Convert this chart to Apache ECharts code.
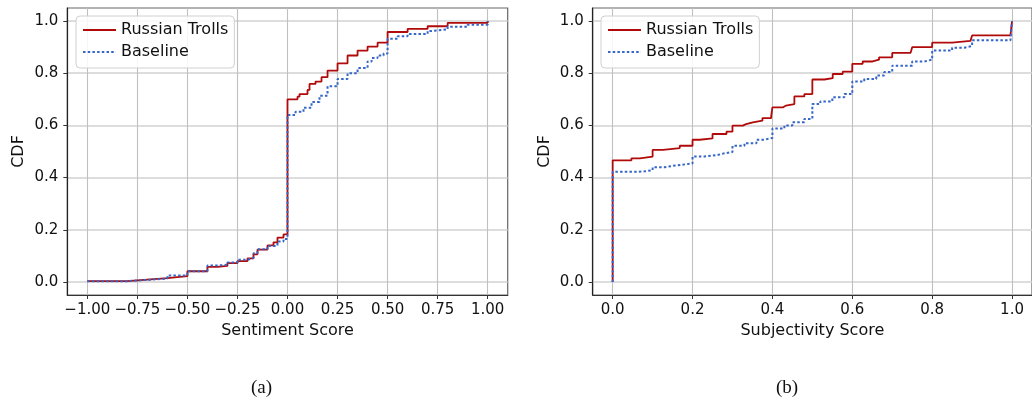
<!DOCTYPE html>
<html>
<head>
<meta charset="utf-8">
<script src="https://cdn.jsdelivr.net/npm/echarts@6/dist/echarts.min.js"></script>
<style>html,body{margin:0;padding:0;background:#fff}#c{width:1032px;height:405px}</style>
</head>
<body>
<div id="c"></div>
<script>
// ---- data ----
const seriesNames = ['Russian Trolls', 'Baseline'];

// (a) Sentiment score CDF
const sentTrollsX = [-1.0,-0.8,-0.7,-0.6,-0.5,-0.4,-0.35,-0.3,-0.25,-0.2,-0.17,-0.15,-0.1,-0.07,-0.05,-0.02,0.0,0.05,0.06,0.1,0.11,0.14,0.17,0.2,0.25,0.3,0.35,0.4,0.45,0.5,0.6,0.7,0.8,1.0];
const sentTrollsY = [0.003,0.009,0.015,0.022,0.041,0.058,0.062,0.072,0.080,0.090,0.106,0.124,0.140,0.152,0.170,0.182,0.700,0.710,0.720,0.736,0.759,0.768,0.785,0.810,0.838,0.868,0.887,0.902,0.917,0.958,0.970,0.980,0.993,1.0];
const sentBaseX = [-1.0,-0.8,-0.7,-0.6,-0.5,-0.4,-0.35,-0.3,-0.25,-0.2,-0.17,-0.15,-0.1,-0.05,-0.02,0.0,0.04,0.08,0.12,0.16,0.2,0.25,0.3,0.35,0.4,0.42,0.45,0.48,0.5,0.55,0.6,0.7,0.72,0.8,0.9,1.0];
const sentBaseY = [0.003,0.008,0.013,0.025,0.041,0.063,0.066,0.075,0.085,0.092,0.110,0.125,0.138,0.155,0.165,0.640,0.652,0.668,0.690,0.714,0.750,0.778,0.800,0.820,0.845,0.858,0.868,0.876,0.932,0.942,0.950,0.962,0.968,0.978,0.986,1.0];

// (b) Subjectivity score CDF
const subjTrollsX = [0.0,0.0,0.047,0.068,0.1,0.126,0.168,0.2,0.218,0.25,0.285,0.3,0.326,0.334,0.351,0.375,0.397,0.4,0.426,0.434,0.455,0.48,0.5,0.53,0.551,0.576,0.6,0.626,0.651,0.667,0.7,0.746,0.75,0.8,0.85,0.896,0.9,0.996,1.0];
const subjTrollsY = [0.0,0.466,0.474,0.480,0.506,0.513,0.522,0.545,0.550,0.567,0.576,0.599,0.605,0.612,0.618,0.628,0.637,0.669,0.676,0.682,0.711,0.720,0.776,0.781,0.797,0.806,0.836,0.845,0.852,0.861,0.878,0.885,0.900,0.917,0.924,0.928,0.945,0.950,1.0];
const subjBaseX = [0.0,0.0,0.06,0.08,0.1,0.13,0.16,0.2,0.23,0.26,0.28,0.3,0.33,0.36,0.38,0.4,0.43,0.45,0.48,0.5,0.52,0.55,0.58,0.6,0.63,0.66,0.68,0.7,0.75,0.78,0.8,0.85,0.88,0.9,0.996,1.0];
const subjBaseY = [0.0,0.422,0.424,0.428,0.440,0.447,0.454,0.481,0.486,0.493,0.498,0.522,0.532,0.545,0.552,0.588,0.600,0.612,0.625,0.682,0.692,0.708,0.720,0.768,0.778,0.791,0.805,0.829,0.845,0.852,0.887,0.898,0.904,0.926,0.932,1.0];

// tick values
const sentTicks = [-1.0,-0.75,-0.5,-0.25,0.0,0.25,0.5,0.75,1.0];
const subjTicks = [0.0,0.2,0.4,0.6,0.8,1.0];
const cdfTicks = [0.0,0.2,0.4,0.6,0.8,1.0];

// ---- build ----
const zip = (xs, ys) => xs.map((x, i) => [x, ys[i]]);
const minus = s => s.replace('-', '\u2212');
const FONT = 'DejaVu Sans';
const RED = '#b00a0a';
const BLUE = '#3566c8';

function xAxisDef(gridIndex, min, max, ticks, digits, name) {
  return {
    type: 'value', gridIndex, min, max, name,
    nameLocation: 'middle', nameGap: 28,
    nameTextStyle: { fontFamily: FONT, fontSize: 16, color: '#111' },
    axisLine: { show: true, onZero: false, lineStyle: { color: '#333', width: 1.2 } },
    axisTick: { show: true, inside: false, length: 4, customValues: ticks, lineStyle: { color: '#333', width: 1 } },
    axisLabel: { customValues: ticks, margin: 8, fontFamily: FONT, fontSize: 15, color: '#111',
      formatter: v => minus(Number(v).toFixed(digits)) },
    splitLine: { show: true, lineStyle: { color: '#c0c0c0', width: 1.1 } }
  };
}
function yAxisDef(gridIndex) {
  return {
    type: 'value', gridIndex, min: -0.05, max: 1.05, name: 'CDF',
    nameLocation: 'middle', nameGap: 40,
    nameTextStyle: { fontFamily: FONT, fontSize: 16, color: '#111' },
    axisLine: { show: true, onZero: false, lineStyle: { color: '#222', width: 1.2 } },
    axisTick: { show: true, inside: false, length: 4, customValues: cdfTicks, lineStyle: { color: '#333', width: 1 } },
    axisLabel: { customValues: cdfTicks, margin: 9, fontFamily: FONT, fontSize: 15, color: '#111',
      formatter: v => Number(v).toFixed(1) },
    splitLine: { show: true, lineStyle: { color: '#d2d2d2', width: 1.5 } }
  };
}
function lineSeries(name, idx, data, isBase) {
  return {
    name, type: 'line', xAxisIndex: idx, yAxisIndex: idx, data,
    step: 'end', showSymbol: false, symbol: 'none', clip: true,
    lineStyle: isBase ? { color: BLUE, width: 2, type: [2.5, 2.2] } : { color: RED, width: 1.8 },
    itemStyle: { color: isBase ? BLUE : RED, opacity: 0 }
  };
}
function legendDef(left) {
  return {
    left, top: 16, orient: 'vertical',
    data: seriesNames,
    backgroundColor: 'rgba(255,255,255,0.85)',
    borderColor: '#d0d0d0', borderWidth: 1, borderRadius: 4,
    padding: [6, 6, 8, 6],
    itemWidth: 33, itemHeight: 14, itemGap: 6, itemTextGap: 12,
    itemStyle: { opacity: 0 },
    textStyle: { fontFamily: FONT, fontSize: 16, color: '#111' }
  };
}

const chart = echarts.init(document.getElementById('c'), null, { renderer: 'canvas' });
chart.setOption({
  animation: false,
  backgroundColor: '#fff',
  title: [
    { text: '(a)', left: 246, top: 374, textStyle: { fontFamily: 'Liberation Serif', fontSize: 19, fontWeight: 'normal', color: '#111' } },
    { text: '(b)', left: 771, top: 374, textStyle: { fontFamily: 'Liberation Serif', fontSize: 19, fontWeight: 'normal', color: '#111' } }
  ],
  grid: [
    { left: 67.3, top: 8, width: 440.4, height: 287, show: true, borderColor: '#666', borderWidth: 1.2, containLabel: false },
    { left: 592.7, top: 8, width: 440.6, height: 287, show: true, borderColor: '#666', borderWidth: 1.2, containLabel: false }
  ],
  legend: [legendDef(76), legendDef(601)],
  xAxis: [
    xAxisDef(0, -1.1, 1.1, sentTicks, 2, 'Sentiment Score'),
    xAxisDef(1, -0.05, 1.05, subjTicks, 1, 'Subjectivity Score')
  ],
  yAxis: [yAxisDef(0), yAxisDef(1)],
  series: [
    lineSeries(seriesNames[0], 0, zip(sentTrollsX, sentTrollsY), false),
    lineSeries(seriesNames[1], 0, zip(sentBaseX, sentBaseY), true),
    lineSeries(seriesNames[0], 1, zip(subjTrollsX, subjTrollsY), false),
    lineSeries(seriesNames[1], 1, zip(subjBaseX, subjBaseY), true)
  ]
});
</script>
</body>
</html>
